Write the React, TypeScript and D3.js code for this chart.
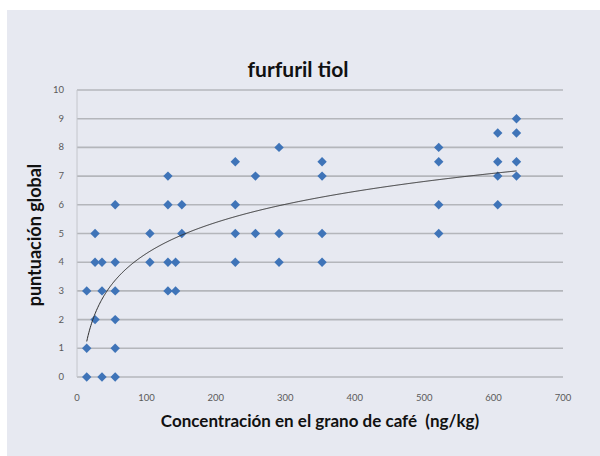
import React, { useEffect, useRef } from 'react';
import * as d3 from 'd3';

// concentración (ng/kg) and puntuación global
const concX = [
  14, 14, 14,
  26, 26, 26,
  36, 36, 36,
  55, 55, 55, 55, 55, 55,
  105, 105,
  131, 131, 131, 131,
  142, 142,
  151, 151,
  228, 228, 228, 228,
  257, 257,
  291, 291, 291,
  353, 353, 353, 353,
  521, 521, 521, 521,
  606, 606, 606, 606,
  633, 633, 633, 633,
];
const scoreY = [
  0, 1, 3,
  2, 4, 5,
  0, 3, 4,
  0, 1, 2, 3, 4, 6,
  4, 5,
  3, 4, 6, 7,
  3, 4,
  5, 6,
  4, 5, 6, 7.5,
  5, 7,
  4, 5, 8,
  4, 5, 7, 7.5,
  5, 6, 7.5, 8,
  6, 7, 7.5, 8.5,
  7, 7.5, 8.5, 9,
];
const xTicks = [0, 100, 200, 300, 400, 500, 600, 700];
const yTicks = [0, 1, 2, 3, 4, 5, 6, 7, 8, 9, 10];

const App = () => {
  const ref = useRef<SVGSVGElement | null>(null);

  useEffect(() => {
    const svg = d3.select(ref.current);
    svg.selectAll('*').remove();

    const width = 600;
    const height = 456;
    const left = 77, right = 563, top = 90, bottom = 377;

    svg.append('rect')
      .attr('x', 7).attr('y', 10)
      .attr('width', width - 7).attr('height', height - 10)
      .attr('fill', '#e7e9f1');

    const x = d3.scaleLinear().domain([0, 700]).range([left, right]);
    const y = d3.scaleLinear().domain([0, 10]).range([bottom, top]);

    // gridlines
    svg.append('g')
      .selectAll('line')
      .data(yTicks)
      .join('line')
      .attr('x1', left).attr('x2', right)
      .attr('y1', d => y(d)).attr('y2', d => y(d))
      .attr('stroke', '#b4b6bb')
      .attr('stroke-width', 1.6);

    svg.append('line')
      .attr('x1', left).attr('x2', left)
      .attr('y1', top).attr('y2', bottom)
      .attr('stroke', '#c4c6cc')
      .attr('stroke-width', 1);

    // tick labels
    svg.append('g')
      .selectAll('text')
      .data(yTicks)
      .join('text')
      .attr('x', 64).attr('y', d => y(d) + 3)
      .attr('text-anchor', 'end')
      .attr('font-family', 'Lato, sans-serif')
      .attr('font-size', 9.5)
      .attr('fill', '#5a5a5a')
      .text(d => d);

    svg.append('g')
      .selectAll('text')
      .data(xTicks)
      .join('text')
      .attr('x', d => x(d)).attr('y', 401)
      .attr('text-anchor', 'middle')
      .attr('font-family', 'Lato, sans-serif')
      .attr('font-size', 9.5)
      .attr('fill', '#5a5a5a')
      .text(d => d);

    // points
    const pts = concX.map((c, i) => ({ c, s: scoreY[i] }));
    const diamond = d3.symbol().type(d3.symbolSquare).size(44);
    svg.append('g')
      .selectAll('path')
      .data(pts)
      .join('path')
      .attr('d', diamond)
      .attr('transform', d => `translate(${x(d.c)},${y(d.s)}) rotate(45)`)
      .attr('fill', '#3f74b8');

    // logarithmic trendline (least squares on ln x)
    const lx = pts.map(p => Math.log(p.c));
    const mx = d3.mean(lx)!;
    const my = d3.mean(pts, p => p.s)!;
    const a = d3.sum(pts, (p, i) => (lx[i] - mx) * (p.s - my)) / d3.sum(lx, v => (v - mx) ** 2);
    const b = my - a * mx;
    const [x0, x1] = d3.extent(concX) as [number, number];
    const trend = d3.range(x0, x1 + 1, 1).map(c => ({ c, s: a * Math.log(c) + b }));
    svg.append('path')
      .datum(trend)
      .attr('fill', 'none')
      .attr('stroke', '#2e2e2e')
      .attr('stroke-width', 1)
      .attr('d', d3.line<{ c: number; s: number }>().x(d => x(d.c)).y(d => y(d.s)));

    // titles
    svg.append('text')
      .attr('x', 298).attr('y', 77)
      .attr('text-anchor', 'middle')
      .attr('font-family', 'Lato, sans-serif')
      .attr('font-weight', 'bold')
      .attr('font-size', 21)
      .attr('fill', '#111')
      .text('furfuril tiol');

    svg.append('text')
      .attr('x', 320).attr('y', 427)
      .attr('text-anchor', 'middle')
      .attr('font-family', 'Lato, sans-serif')
      .attr('font-weight', 'bold')
      .attr('font-size', 17)
      .attr('fill', '#111')
      .style('white-space', 'pre')
      .text('Concentración en el grano de café  (ng/kg)');

    svg.append('text')
      .attr('transform', 'translate(41,235) rotate(-90)')
      .attr('text-anchor', 'middle')
      .attr('font-family', 'Lato, sans-serif')
      .attr('font-weight', 'bold')
      .attr('font-size', 18)
      .attr('fill', '#111')
      .text('puntuación global');
  }, []);

  return (
    <svg
      ref={ref}
      width={600}
      height={456}
      style={{ position: 'absolute', left: 0, top: 0, background: '#fff' }}
    />
  );
};

export default App;
